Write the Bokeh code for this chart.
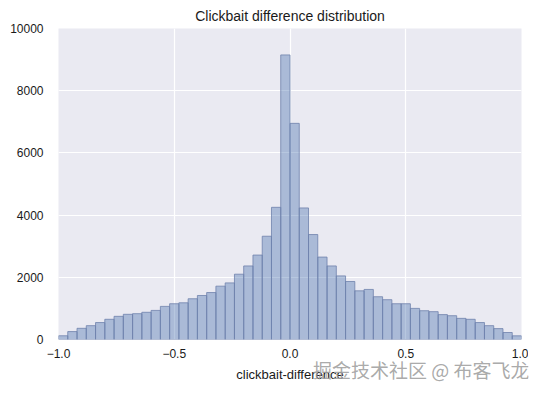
import numpy as np
from bokeh.plotting import figure
from bokeh.layouts import column
from bokeh.models import FixedTicker, Label, ColumnDataSource
from bokeh.embed import file_html
from bokeh.resources import INLINE

# Histogram data: 50 bins of width 0.04 from -1 to 1
bin_start = -1.0
bin_width = 0.04
counts = [120, 255, 360, 445, 545, 650, 745, 810, 830, 875,
          935, 1065, 1150, 1180, 1310, 1415, 1510, 1715, 1820, 2100,
          2365, 2715, 3320, 4250, 9150, 6950, 4230, 3375, 2650, 2365,
          2045, 1865, 1565, 1610, 1375, 1280, 1150, 1150, 1000, 925,
          895, 800, 765, 680, 650, 545, 445, 350, 225, 118]
x_ticks = [-1.0, -0.5, 0.0, 0.5, 1.0]
x_tick_labels = ["\u22121.0", "\u22120.5", "0.0", "0.5", "1.0"]
y_ticks = [0, 2000, 4000, 6000, 8000, 10000]

title_text = "Clickbait difference distribution"
x_label = "clickbait-difference"
watermark = "掘金技术社区 @ 布客飞龙"

n = len(counts)
left = [bin_start + i * bin_width for i in range(n)]
right = [l + bin_width for l in left]
src = ColumnDataSource(dict(left=left, right=right, top=counts, bottom=[0] * n))

FONT = "Liberation Sans"

p = figure(width=528, height=384, x_range=(-1, 1), y_range=(0, 10000),
           output_backend="svg", toolbar_location=None,
           min_border_left=58, min_border_right=7, min_border_top=21, min_border_bottom=36)
p.title.text = title_text
p.title.align = "center"
p.title.text_font = FONT
p.title.text_font_size = "14px"
p.title.text_font_style = "normal"
p.title.text_color = "#1a1a1a"

p.background_fill_color = "#EAEAF2"
p.border_fill_color = "white"
p.outline_line_color = None

p.quad(left="left", right="right", top="top", bottom="bottom", source=src,
       fill_color="#4C72B0", fill_alpha=0.4,
       line_color="#6F82AD", line_alpha=0.8, line_width=1)

for ax in (p.xaxis[0], p.yaxis[0]):
    ax.axis_line_color = None
    ax.major_tick_line_color = None
    ax.minor_tick_line_color = None
    ax.major_label_text_font = FONT
    ax.major_label_text_font_size = "12px"
    ax.major_label_text_color = "#1a1a1a"

p.xaxis[0].ticker = FixedTicker(ticks=x_ticks)
p.xaxis[0].major_label_overrides = {t: l for t, l in zip(x_ticks, x_tick_labels)}
p.xaxis[0].major_label_standoff = 3
p.xaxis[0].axis_label = x_label
p.xaxis[0].axis_label_text_font = FONT
p.xaxis[0].axis_label_text_font_size = "13px"
p.xaxis[0].axis_label_text_font_style = "normal"
p.xaxis[0].axis_label_text_color = "#1a1a1a"
p.xaxis[0].axis_label_standoff = 6

p.yaxis[0].ticker = FixedTicker(ticks=y_ticks)
p.yaxis[0].major_label_standoff = 9
p.yaxis[0].formatter.use_scientific = False

p.xgrid.ticker = FixedTicker(ticks=x_ticks)
p.ygrid.ticker = FixedTicker(ticks=y_ticks)
p.grid.grid_line_color = "white"
p.grid.grid_line_width = 1.2
p.grid.level = "underlay"

# transparent overlay strip carrying the watermark
p2 = figure(width=535, height=40, x_range=(0, 1), y_range=(0, 1),
            output_backend="svg", toolbar_location=None,
            min_border=0, margin=(-39, 0, 0, 0))
p2.title.visible = False
p2.axis.visible = False
p2.grid.visible = False
p2.outline_line_color = None
p2.background_fill_alpha = 0
p2.border_fill_alpha = 0

wm = Label(x=471, y=16, x_units="screen", y_units="screen", text=watermark,
           text_font="Noto Sans CJK SC", text_font_size="19px",
           text_color="#a0a0a0", text_alpha=0.9, text_align="right",
           text_baseline="middle")
p2.add_layout(wm)

layout = column(p, p2, spacing=0)

open("out.html", "w").write(file_html(layout, INLINE))
